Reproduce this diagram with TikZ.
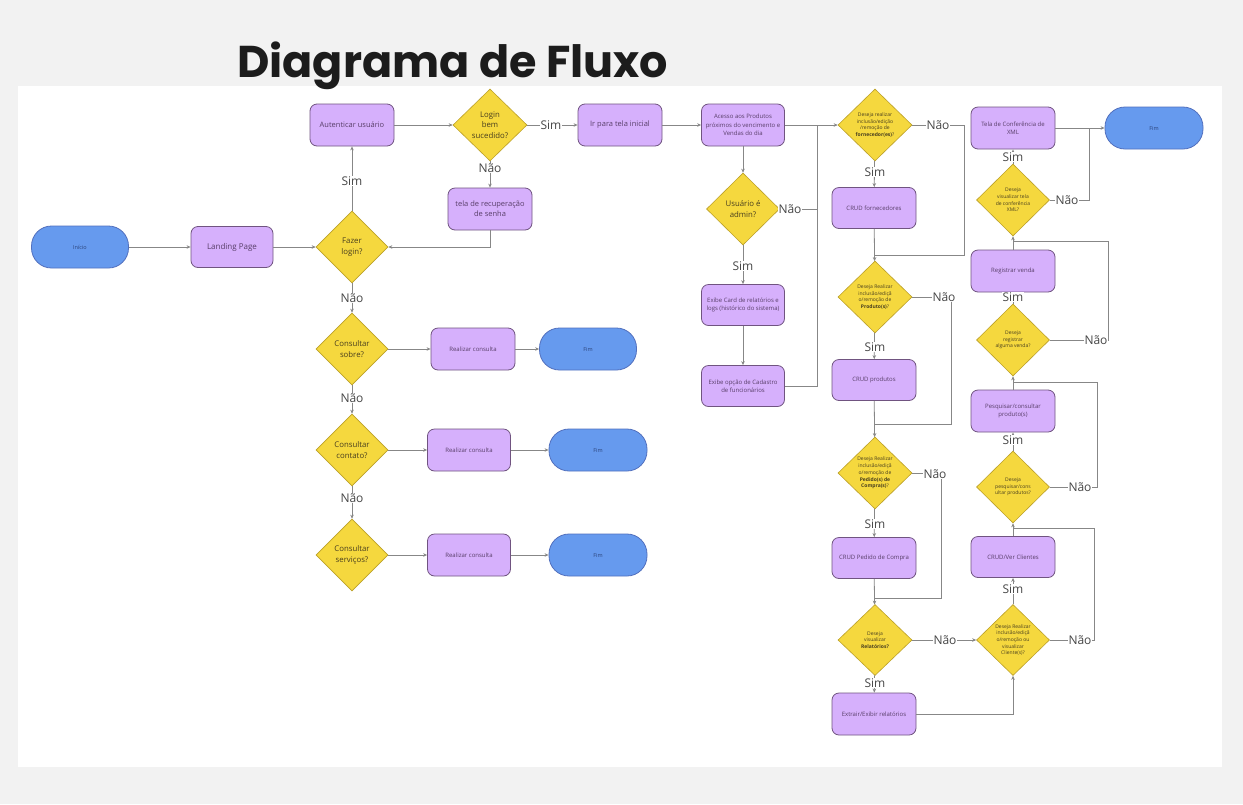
\documentclass[tikz,border=0pt]{standalone}
\usepackage{fontspec}
\setmainfont{Open Sans}
\newfontfamily\titlefont{Poppins}
\usetikzlibrary{shapes.geometric,arrows.meta}
\definecolor{bgc}{RGB}{242,242,242}
\definecolor{pfill}{RGB}{214,176,252}
\definecolor{pborder}{RGB}{112,84,128}
\definecolor{ptext}{RGB}{88,62,104}
\definecolor{yfill}{RGB}{245,216,62}
\definecolor{yborder}{RGB}{188,160,40}
\definecolor{ytext}{RGB}{72,62,30}
\definecolor{bfill}{RGB}{102,154,238}
\definecolor{bborder}{RGB}{82,112,190}
\definecolor{btext}{RGB}{45,70,125}
\definecolor{lcol}{RGB}{135,135,135}
\definecolor{ltext}{RGB}{70,70,70}
\definecolor{ttext}{RGB}{28,28,28}
\begin{document}
\begin{tikzpicture}[x=1pt,y=-1pt,
  proc/.style={draw=pborder, fill=pfill, rounded corners=7pt, minimum width=84pt, minimum height=42pt, inner sep=1pt, align=center, text=ptext, font=\fontsize{7.5}{10}\selectfont, line width=0.8pt},
  sproc/.style={proc, font=\fontsize{6}{8.5}\selectfont},
  dec/.style={diamond, draw=yborder, fill=yfill, minimum width=74pt, minimum height=72pt, inner sep=0pt, line width=0.6pt},
  dtxt/.style={align=center, text=ytext, font=\fontsize{7.8}{10.5}\selectfont, inner sep=0pt},
  sdtxt/.style={dtxt, font=\fontsize{5}{6.7}\selectfont},
  term/.style={draw=bborder, fill=bfill, rounded corners=20pt, minimum width=97pt, minimum height=42pt, text=btext, font=\fontsize{5.5}{7}\selectfont, line width=0.8pt},
  lbl/.style={fill=white, inner sep=0.5pt, text=ltext, font=\fontsize{12}{14}\selectfont},
  arr/.style={draw=lcol, line width=0.8pt, -{Stealth[length=4pt,width=3.5pt]}},
  ln/.style={draw=lcol, line width=0.8pt}]
\useasboundingbox (0,0) rectangle (1243,804);
\fill[bgc] (0,0) rectangle (1243,804);
\fill[white] (18,86) rectangle (1222,767);
\node[anchor=base west, inner sep=0pt, text=ttext] (title) at (237,77) {\resizebox{431pt}{!}{\titlefont\bfseries Diagrama de Fluxo}};

% left part
\node[term] (ini) at (80,247) {Início};
\node[proc, font=\fontsize{8}{10}\selectfont, minimum width=82pt, minimum height=41pt] (lp) at (232,247) {Landing Page};
\node[dec, minimum width=72pt] (fz) at (352,247) {};
\node[dtxt] (fzt) at (fz) {Fazer\\login?};
\node[proc] (au) at (352,125) {Autenticar usuário};
\node[dec] (lg) at (490,125) {};
\node[dtxt] (lgt) at (lg) {Login\\bem\\sucedido?};
\node[proc] (ir) at (620,125) {Ir para tela inicial};
\node[proc] (rc) at (490,209) {tela de recuperação\\de senha};
\node[dec, minimum width=72pt] (cs) at (352,349) {};
\node[dtxt] (cst) at (cs) {Consultar\\sobre?};
\node[sproc] (rc1) at (473,349) {Realizar consulta};
\node[term] (f1) at (588,349) {Fim};
\node[dec, minimum width=72pt] (cc) at (352,450) {};
\node[dtxt] (cct) at (cc) {Consultar\\contato?};
\node[sproc, minimum width=83pt] (rc2) at (469,450) {Realizar consulta};
\node[term, minimum width=98pt] (f2) at (598,450) {Fim};
\node[dec, minimum width=72pt] (sv) at (352,555) {};
\node[dtxt] (svt) at (sv) {Consultar\\serviços?};
\node[sproc, minimum width=83pt] (rc3) at (469,555) {Realizar consulta};
\node[term, minimum width=98pt] (f3) at (598,555) {Fim};

% middle part
\node[sproc, minimum width=83pt] (ac) at (743,125) {Acesso aos Produtos\\próximos do vencimento e\\Vendas do dia};
\node[dec, minimum width=73pt] (ad) at (743,209) {};
\node[dtxt] (adt) at (ad) {Usuário é\\admin?};
\node[sproc, minimum width=83pt, minimum height=41pt] (ec) at (743,305) {Exibe Card de relatórios e\\logs (histórico do sistema)};
\node[sproc, minimum width=83pt, minimum height=41pt] (eo) at (743,386) {Exibe opção de Cadastro\\de funcionários};

\node[dec] (fo) at (875,125) {};
\node[sdtxt] (fot) at (fo) {Deseja realizar\\inclusão/edição\\/remoção de\\\textbf{fornecedor(es)}?};
\node[sproc, minimum height=41pt] (cf) at (874,208) {CRUD fornecedores};
\node[dec] (pr) at (875,297) {};
\node[sdtxt] (prt) at (pr) {Deseja Realizar\\inclusão/ediçã\\o/remoção de\\\textbf{Produto(s)}?};
\node[sproc, minimum height=41pt] (cp) at (874,380) {CRUD produtos};
\node[dec] (pd) at (875,473) {};
\node[sdtxt] (pdt) at (pd) {Deseja Realizar\\inclusão/ediçã\\o/remoção de\\\textbf{Pedido(s) de}\\\textbf{Compra(s)}?};
\node[sproc, minimum height=41pt] (cpc) at (874,558) {CRUD Pedido de Compra};
\node[dec, minimum height=71pt] (rl) at (875,640) {};
\node[sdtxt] (rlt) at (rl) {Deseja\\visualizar\\\textbf{Relatórios?}};
\node[sproc] (ex) at (874,714) {Extrair/Exibir relatórios};

% right part
\node[dec, minimum width=73pt, minimum height=71pt] (cl) at (1013,640) {};
\node[sdtxt] (clt) at (cl) {Deseja Realizar\\inclusão/ediçã\\o/remoção ou\\visualizar\\Cliente(s)?};
\node[sproc, minimum height=41pt] (cv) at (1013,557) {CRUD/Ver Clientes};
\node[dec, minimum width=73pt] (ps) at (1013,487) {};
\node[sdtxt] (pst) at (ps) {Deseja\\pesquisar/cons\\ultar produtos?};
\node[sproc] (pc) at (1013,411) {Pesquisar/consultar\\produto(s)};
\node[dec, minimum width=73pt] (rg) at (1013,340) {};
\node[sdtxt] (rgt) at (rg) {Deseja\\registrar\\alguma venda?};
\node[sproc] (rv) at (1013,271) {Registrar venda};
\node[dec, minimum width=73pt] (xm) at (1013,200) {};
\node[sdtxt] (xmt) at (xm) {Deseja\\visualizar tela\\de conferência\\XML?};
\node[sproc] (tx) at (1013,128) {Tela de Conferência de\\XML};
\node[term, minimum width=98pt] (f4) at (1154,128) {Fim};

% connectors left
\draw[arr] (ini) -- (lp);
\draw[arr] (lp) -- (fz);
\draw[arr] (fz) -- (au);
\draw[arr] (au) -- (lg);
\draw[arr] (lg) -- (ir);
\draw[arr] (lg) -- (rc);
\draw[arr] (rc.south) |- (fz.east);
\draw[arr] (fz) -- (cs);
\draw[arr] (cs) -- (rc1);
\draw[arr] (rc1) -- (f1);
\draw[arr] (cs) -- (cc);
\draw[arr] (cc) -- (rc2);
\draw[arr] (rc2) -- (f2);
\draw[arr] (cc) -- (sv);
\draw[arr] (sv) -- (rc3);
\draw[arr] (rc3) -- (f3);

% connectors middle
\draw[arr] (ir) -- (ac);
\draw[arr] (ac) -- (fo);
\draw[arr] (ac) -- (ad);
\draw[arr] (ad) -- (ec);
\draw[arr] (ec) -- (eo);
\coordinate (m1) at (817,125);
\draw[ln] (ad.east) -| (m1);
\draw[ln] (eo.east) -| (m1);
\draw[arr] (fo) -- (cf);
\draw[arr] (cf) -- (pr);
\coordinate (k1) at (964,125);
\coordinate (j1) at (875,255);
\draw[ln] (fo.east) -- (k1) |- (j1);
\draw[arr] (pr) -- (cp);
\draw[arr] (cp) -- (pd);
\coordinate (k2) at (951,297);
\coordinate (j2) at (875,424);
\draw[ln] (pr.east) -- (k2) |- (j2);
\draw[arr] (pd) -- (cpc);
\draw[arr] (cpc) -- (rl);
\coordinate (k3) at (941,473);
\coordinate (j3) at (875,598);
\draw[ln] (pd.east) -- (k3) |- (j3);
\draw[arr] (rl) -- (ex);
\draw[arr] (rl) -- (cl);
\draw[arr] (ex.east) -| (cl.south);

% connectors right
\draw[arr] (cl) -- (cv);
\draw[arr] (cv) -- (ps);
\coordinate (k4) at (1094,640);
\coordinate (j4) at (1013,528);
\draw[ln] (cl.east) -- (k4) |- (j4);
\draw[arr] (ps) -- (pc);
\draw[arr] (pc) -- (rg);
\coordinate (k5) at (1097,487);
\coordinate (j5) at (1013,382);
\draw[ln] (ps.east) -- (k5) |- (j5);
\draw[arr] (rg) -- (rv);
\draw[arr] (rv) -- (xm);
\coordinate (k6) at (1108,340);
\coordinate (j6) at (1013,241);
\draw[ln] (rg.east) -- (k6) |- (j6);
\draw[arr] (xm) -- (tx);
\draw[arr] (tx) -- (f4);
\coordinate (k7) at (1089,200);
\coordinate (j7) at (1089,128);
\draw[ln] (xm.east) -- (k7) -- (j7);

% labels
\node[lbl] (s1) at (352,181) {Sim};
\node[lbl] (s2) at (551,125) {Sim};
\node[lbl] (n1) at (490,168) {Não};
\node[lbl] (n2) at (352,298) {Não};
\node[lbl] (n3) at (352,398) {Não};
\node[lbl] (n4) at (352,498) {Não};
\node[lbl] (n5) at (790,209) {Não};
\node[lbl] (s3) at (743,266) {Sim};
\node[lbl] (n6) at (938,125) {Não};
\node[lbl] (s4) at (875,172) {Sim};
\node[lbl] (n7) at (944,297) {Não};
\node[lbl] (s5) at (875,347) {Sim};
\node[lbl] (n8) at (935,474) {Não};
\node[lbl] (s6) at (875,524) {Sim};
\node[lbl] (n9) at (945,640) {Não};
\node[lbl] (s7) at (875,683) {Sim};
\node[lbl] (n10) at (1080,640) {Não};
\node[lbl] (s8) at (1013,589) {Sim};
\node[lbl] (n11) at (1080,487) {Não};
\node[lbl] (s9) at (1013,440) {Sim};
\node[lbl] (n12) at (1096,340) {Não};
\node[lbl] (s10) at (1013,297) {Sim};
\node[lbl] (n13) at (1067,200) {Não};
\node[lbl] (s11) at (1013,157) {Sim};
\end{tikzpicture}
\end{document}
